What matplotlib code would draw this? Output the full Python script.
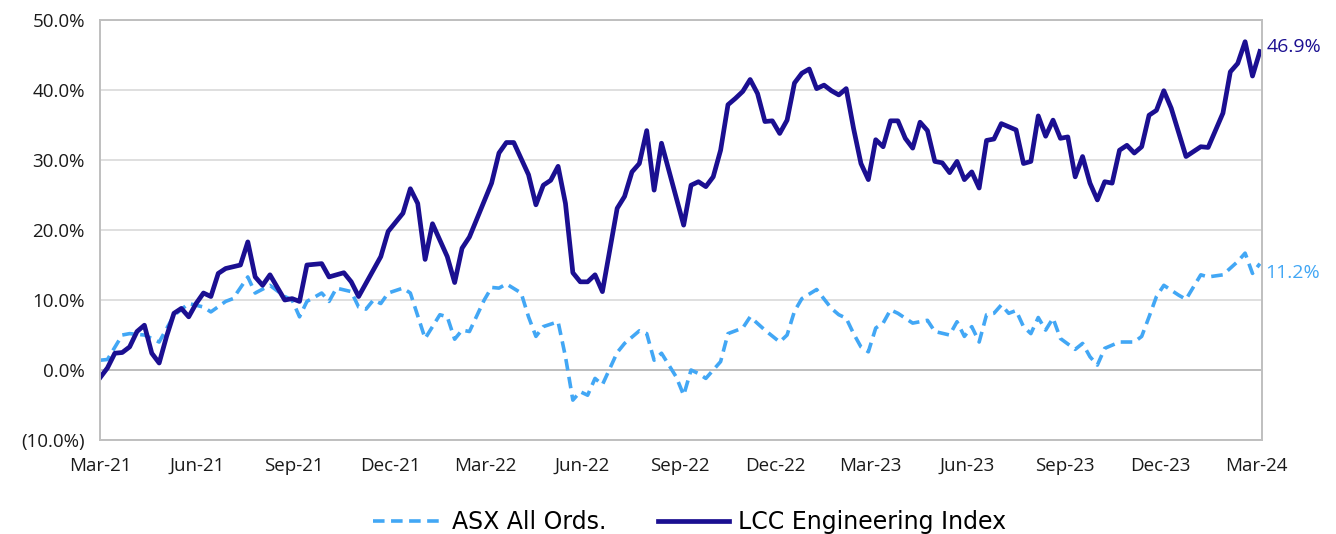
import pandas as pd
import matplotlib
matplotlib.use('Agg')
import matplotlib.pyplot as plt
import matplotlib.dates as mdates
from matplotlib.ticker import FuncFormatter, MultipleLocator

# weeks since 1 Mar 2021 and cumulative return (%)
lcc_week = [0, 1, 2, 3, 4, 5, 6, 7, 8, 9, 10, 11, 12, 13, 14, 15, 16, 17, 19, 20,
            21, 22, 23, 25, 26, 27, 28, 30, 31, 33, 34, 35, 38, 39, 41, 42, 43, 44, 45, 47,
            48, 49, 50, 53, 54, 55, 56, 58, 59, 60, 61, 62, 63, 64, 65, 66, 67, 68, 70, 71,
            72, 73, 74, 75, 76, 79, 80, 81, 82, 83, 84, 85, 86, 87, 88, 89, 90, 91, 92, 93,
            94, 95, 96, 97, 98, 99, 100, 101, 102, 103, 104, 105, 106, 107, 108, 109, 110, 111, 112, 113,
            114, 115, 116, 117, 118, 119, 120, 121, 122, 124, 125, 126, 127, 128, 129, 130, 131, 132, 133, 134,
            135, 136, 137, 138, 139, 140, 141, 142, 143, 144, 145, 147, 149, 150, 152, 153, 154, 155, 156, 157]
lcc_val = [-1.1, 0.3, 2.4, 2.5, 3.3, 5.5, 6.4, 2.4, 1.0, 4.8, 8.1, 8.8, 7.6, 9.5, 11.0, 10.5, 13.8, 14.5, 15.0, 18.3,
           13.3, 12.1, 13.6, 10.0, 10.2, 9.8, 15.0, 15.2, 13.3, 13.9, 12.6, 10.5, 16.2, 19.8, 22.4, 25.9, 23.8, 15.8, 20.9, 16.2,
           12.5, 17.4, 19.0, 26.7, 31.0, 32.5, 32.5, 27.9, 23.6, 26.4, 27.1, 29.1, 23.8, 13.9, 12.6, 12.6, 13.6, 11.2, 23.1, 24.8,
           28.3, 29.5, 34.2, 25.7, 32.4, 20.7, 26.4, 26.9, 26.2, 27.6, 31.4, 37.9, 38.8, 39.8, 41.5, 39.5, 35.5, 35.6, 33.8, 35.7,
           41.0, 42.4, 43.0, 40.2, 40.7, 39.9, 39.3, 40.2, 34.5, 29.5, 27.2, 32.9, 31.9, 35.6, 35.6, 33.1, 31.7, 35.4, 34.2, 29.8,
           29.6, 28.2, 29.8, 27.2, 28.3, 26.0, 32.8, 33.0, 35.2, 34.3, 29.5, 29.8, 36.3, 33.4, 35.7, 33.1, 33.3, 27.6, 30.5, 26.7,
           24.3, 26.9, 26.7, 31.4, 32.1, 31.0, 31.9, 36.4, 37.1, 39.9, 37.4, 30.5, 31.9, 31.8, 36.7, 42.6, 43.8, 46.9, 42.0, 45.5]

asx_week = [0, 1, 3, 4, 6, 8, 10, 12, 14, 15, 17, 18, 20, 21, 23, 25, 26, 27, 28, 30,
            31, 32, 34, 35, 36, 37, 38, 39, 41, 42, 44, 46, 47, 48, 49, 50, 52, 53, 54, 55,
            57, 58, 59, 60, 62, 63, 64, 65, 66, 67, 68, 70, 71, 73, 74, 75, 76, 78, 79, 80,
            81, 82, 84, 85, 87, 88, 90, 92, 93, 94, 95, 97, 99, 100, 101, 102, 103, 104, 105, 106,
            107, 108, 110, 112, 113, 115, 116, 117, 118, 119, 120, 121, 122, 123, 124, 125, 126, 127, 128, 129,
            130, 132, 133, 134, 135, 136, 138, 140, 141, 142, 143, 144, 146, 147, 149, 150, 152, 154, 155, 156, 157]
asx_val = [1.4, 1.5, 5.0, 5.2, 5.0, 4.0, 7.8, 9.5, 9.0, 8.3, 9.8, 10.2, 13.3, 11.0, 12.1, 10.5, 10.0, 7.6, 9.8, 11.0,
           9.8, 11.7, 11.2, 9.0, 8.7, 10.0, 9.5, 11.0, 11.7, 11.0, 4.5, 7.9, 7.6, 4.4, 5.7, 5.5, 10.0, 11.8, 11.7, 12.3,
           11.0, 7.6, 4.8, 6.2, 6.9, 1.9, -4.3, -3.1, -3.6, -1.2, -2.1, 2.5, 3.8, 5.6, 5.2, 1.4, 2.4, -1.0, -3.6, 0.0,
           -0.5, -1.2, 1.2, 5.2, 6.0, 7.6, 5.7, 4.0, 5.0, 8.4, 10.2, 11.5, 8.8, 7.9, 7.4, 5.2, 3.3, 2.6, 6.0, 6.7,
           8.6, 8.1, 6.7, 7.1, 5.5, 5.0, 6.9, 4.8, 6.2, 4.0, 7.9, 8.1, 9.3, 8.1, 8.5, 6.2, 5.2, 7.5, 5.7, 7.4,
           4.5, 2.95, 3.8, 1.9, 0.7, 3.1, 4.0, 4.0, 4.8, 7.6, 10.5, 12.1, 10.7, 10.1, 13.6, 13.3, 13.6, 15.5, 16.7, 13.8, 15.2]

lcc_label = '46.9%'
asx_label = '11.2%'

start = pd.Timestamp('2021-03-01')
lcc_dates = start + pd.to_timedelta([w * 7 for w in lcc_week], unit='D')
asx_dates = start + pd.to_timedelta([w * 7 for w in asx_week], unit='D')

dark = '#1b0f91'
light = '#42a7f5'
tick_font = 'Open Sans'

fig = plt.figure(figsize=(13.36, 5.34), dpi=100)
ax = fig.add_axes([0.0749, 0.176, 0.8697, 0.7865])

ax.plot(asx_dates, asx_val, color=light, lw=2.6, ls=(0, (3.2, 1.8)), label='ASX All Ords.')
ax.plot(lcc_dates, lcc_val, color=dark, lw=3.4, solid_joinstyle='round', label='LCC Engineering Index')

ax.set_ylim(-10, 50)
ax.set_xlim(start, pd.Timestamp('2024-03-06'))
ax.yaxis.set_major_locator(MultipleLocator(10))
ax.yaxis.set_major_formatter(FuncFormatter(
    lambda v, p: f'({abs(v):.1f}%)' if v < 0 else f'{v:.1f}%'))
ax.xaxis.set_major_locator(mdates.MonthLocator(bymonth=[3, 6, 9, 12]))
ax.xaxis.set_major_formatter(mdates.DateFormatter('%b-%y'))

ax.grid(axis='y', color='#d9d9d9', lw=1.2)
ax.axhline(0, color='#bfbfbf', lw=1.4, zorder=1)
ax.set_axisbelow(True)
for s in ax.spines.values():
    s.set_color('#bfbfbf')
    s.set_linewidth(1.4)
ax.tick_params(axis='both', length=0, labelsize=13.5, colors='#1a1a1a')
ax.tick_params(axis='y', pad=11)
ax.tick_params(axis='x', pad=12)
for lab in ax.get_xticklabels() + ax.get_yticklabels():
    lab.set_family(tick_font)

# end labels
ax.annotate(lcc_label, xy=(1.0, 46.1), xycoords=('axes fraction', 'data'),
            xytext=(3, 0), textcoords='offset points', va='center',
            color=dark, fontsize=14, family=tick_font)
ax.annotate(asx_label, xy=(1.0, 13.9), xycoords=('axes fraction', 'data'),
            xytext=(2, 0), textcoords='offset points', va='center',
            color=light, fontsize=14, family=tick_font)

leg = fig.legend(loc='lower center', bbox_to_anchor=(0.516, -0.04), ncol=2, frameon=False,
                 handlelength=3.0, columnspacing=2.2, handletextpad=0.35,
                 prop={'family': 'DejaVu Sans', 'size': 17})

fig.savefig('out.png', dpi=100)
